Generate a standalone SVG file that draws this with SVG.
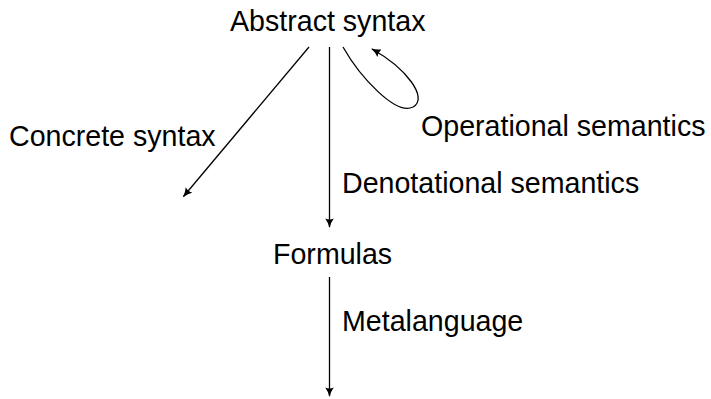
<svg xmlns="http://www.w3.org/2000/svg" width="711" height="399" viewBox="0 0 711 399">
<defs>
<style>
text{font-family:"Liberation Sans",Arial,Helvetica,sans-serif;font-size:28.6px;fill:#000}
.edge{fill:none;stroke:#000;stroke-width:1.3}
</style>
<marker id="arr" viewBox="0 0 10 10" refX="9" refY="5" markerWidth="9.5" markerHeight="9.5" markerUnits="userSpaceOnUse" orient="auto">
<path d="M0,0.5 Q4,3.5 10,5 Q4,6.5 0,9.5 Q2,5 0,0.5 Z" fill="#000"/>
</marker>
</defs>
<rect width="711" height="399" fill="#fff"/>
<g id="connectors">
<path class="edge" d="M309,47 L183.5,196.5" marker-end="url(#arr)"/>
<path class="edge" d="M329.5,47 L329.5,227" marker-end="url(#arr)"/>
<path class="edge" d="M343,47 C360,77 396,116 413,107 C429,98 406,68 372,49" marker-end="url(#arr)"/>
<path class="edge" d="M329.5,277 L329.5,396" marker-end="url(#arr)"/>
</g>
<g id="abstract"><text x="230" y="31">Abstract syntax</text></g>
<g id="formulas"><text x="273" y="264">Formulas</text></g>
<g id="lbl-concrete"><text x="9" y="146">Concrete syntax</text></g>
<g id="lbl-operational"><text x="421" y="136">Operational semantics</text></g>
<g id="lbl-denotational"><text x="342" y="193">Denotational semantics</text></g>
<g id="lbl-meta"><text x="342" y="331">Metalanguage</text></g>
</svg>
